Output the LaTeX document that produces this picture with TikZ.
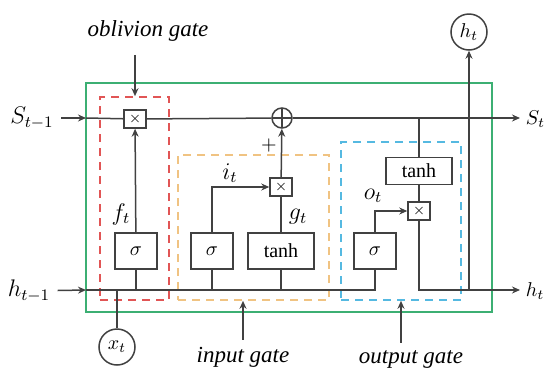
\documentclass[tikz,border=0pt]{standalone}
\usepackage{fontspec}
\setmainfont{Liberation Serif}
\usetikzlibrary{arrows.meta,positioning}

\definecolor{cellgreen}{RGB}{60,175,115}
\definecolor{forgetred}{RGB}{225,85,85}
\definecolor{inputyellow}{RGB}{240,195,130}
\definecolor{outputblue}{RGB}{85,185,225}
\definecolor{wire}{RGB}{65,65,65}

\begin{document}
\begin{tikzpicture}[x=0.5pt, y=-0.5pt, line width=0.75pt,
    every node/.style={font=\normalsize},
    flow/.style={draw=wire, -{Stealth[length=4pt,width=3.5pt]}},
    gatebox/.style={draw=wire, rectangle, minimum width=21pt, minimum height=18pt, inner sep=0pt},
    tanhbox/.style={gatebox, minimum width=33pt},
    mulbox/.style={draw=wire, rectangle, minimum width=11pt, minimum height=9pt, inner sep=0pt, font=\scriptsize},
    sumnode/.style={draw=wire, circle, minimum size=10pt, inner sep=0pt,
      path picture={\draw[wire] (path picture bounding box.north) -- (path picture bounding box.south)
        (path picture bounding box.west) -- (path picture bounding box.east);}},
    iocircle/.style={draw=wire, circle, minimum size=18pt, inner sep=0pt},
    gatearea/.style={dashed, dash pattern=on 4pt off 3pt, line width=0.8pt, rectangle, inner sep=0pt},
    varlabel/.style={font=\large},
    gatelabel/.style={font=\itshape\fontsize{11.5}{13}\selectfont}]
  \useasboundingbox (0,0) rectangle (547,376);

  % cell and gate areas
  \node[draw=cellgreen, line width=1pt, rectangle, minimum width=203pt, minimum height=114.5pt, inner sep=0pt] (cell) at (289,197.5) {};
  \node[gatearea, draw=forgetred, minimum width=34.5pt, minimum height=101.5pt] (fgate) at (134.5,198.5) {};
  \node[gatearea, draw=inputyellow, minimum width=75.5pt, minimum height=72.5pt] (igate) at (253.5,227.5) {};
  \node[gatearea, draw=outputblue, minimum width=60pt, minimum height=79pt] (ogate) at (401,221) {};

  % operations
  \node[mulbox] (fmul) at (135,119) {$\times$};
  \node[gatebox] (fsig) at (136,251) {$\sigma$};
  \node[sumnode] (add) at (282,118) {};
  \node[gatebox] (isig) at (212,251) {$\sigma$};
  \node[tanhbox] (itanh) at (281,251) {tanh};
  \node[mulbox] (imul) at (281,187) {$\times$};
  \node[tanhbox, minimum height=13.5pt] (otanh) at (419,171) {tanh};
  \node[gatebox] (osig) at (375,251) {$\sigma$};
  \node[mulbox] (omul) at (419,211) {$\times$};

  % inputs and outputs
  \node[varlabel] (sprev) at (32,118) {$S_{t-1}$};
  \node[varlabel] (hprev) at (29,291) {$h_{t-1}$};
  \coordinate (sin) at (86,118);
  \coordinate (hin) at (86,290);
  \coordinate (send) at (520,118);
  \coordinate (hend) at (520,290);
  \node[anchor=west, inner sep=1pt] (snext) at (523,119) {$S_t$};
  \node[anchor=west, inner sep=1pt] (hnext) at (523,291) {$h_t$};
  \node[iocircle] (xt) at (117,347) {$x_t$};
  \node[iocircle] (ht) at (469,32) {$h_t$};

  % small labels
  \node[varlabel] (flab) at (121,214) {$f_t$};
  \node[varlabel] (ilab) at (230,173) {$i_t$};
  \node[varlabel] (glab) at (298,217) {$g_t$};
  \node[varlabel] (olab) at (373,196) {$o_t$};
  \node (plus) at (269,145) {$+$};

  % gate names
  \node[gatelabel] (oblab) at (148,31) {oblivion gate};
  \node[gatelabel] (inlab) at (243,357) {input gate};
  \node[gatelabel] (outlab) at (411,359) {output gate};
  \draw[flow, shorten <=3pt] (oblab.south -| fmul) -- (fgate.north -| fmul);
  \draw[flow] (inlab.north) -- (igate.south -| inlab);
  \draw[flow] ([xshift=-5pt]outlab.north) -- (ogate.south -| 401,0);

  % cell state line
  \draw[flow] (sprev) -- (sin);
  \draw[wire] (sin) -- (fmul) -- (add);
  \draw[flow] (add) -- (send);

  % hidden state line
  \draw[flow] (hprev) -- (hin);
  \draw[wire] (hin) -| (osig);
  \draw[wire] (xt) -- (xt |- hin);
  \draw[wire] (fsig) -- (fsig |- hin);
  \draw[wire] (isig) -- (isig |- hin);
  \draw[wire] (itanh) -- (itanh |- hin);

  % gates
  \draw[flow] (fsig) -- (fmul);
  \draw[flow] (isig) |- (imul);
  \draw[wire] (itanh) -- (imul);
  \draw[flow] (imul) -- (add);
  \draw[wire] (otanh |- add) -- (otanh);
  \draw[wire] (otanh) -- (omul);
  \draw[flow] (osig) |- (omul);
  \draw[flow] (omul) |- (hend);
  \draw[flow] (ht |- hend) -- (ht);
\end{tikzpicture}
\end{document}
